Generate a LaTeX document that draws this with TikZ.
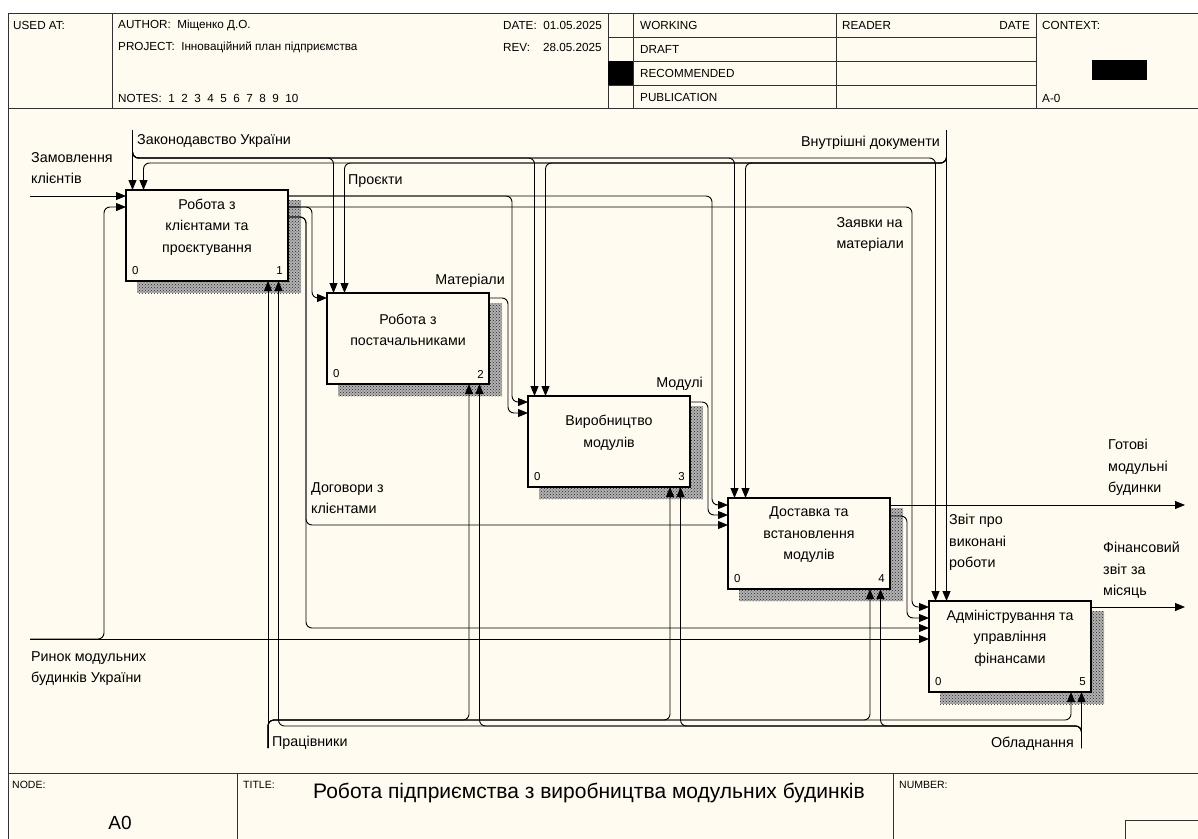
\documentclass[tikz,border=0pt]{standalone}
\usepackage{fontspec}
\setmainfont{Liberation Sans}
\usetikzlibrary{arrows.meta,calc,patterns}
\definecolor{bg}{RGB}{255,251,240}
\definecolor{frm}{RGB}{50,50,50}
\begin{document}
\begin{tikzpicture}[x=1pt,y=-1pt,
  box/.style={draw, line width=2.2pt, fill=bg, minimum width=162pt, minimum height=91pt, inner sep=0pt, outer sep=0pt, anchor=north west},
  shad/.style={fill=black!30, postaction={pattern=crosshatch dots, pattern color=black!85}},
  con/.style={line width=0.9pt, rounded corners=6pt},
  arr/.style={con, -{Triangle[length=10pt,width=8pt]}},
  lbl/.style={font=\fontsize{14.3}{21.5}\selectfont, inner sep=0pt},
  btxt/.style={font=\fontsize{14.2}{21.5}\selectfont, inner sep=0pt, align=center},
  num/.style={font=\fontsize{11.5}{12}\selectfont, inner sep=0pt},
  hdr/.style={font=\fontsize{11.7}{12}\selectfont, inner sep=0pt, anchor=west},
  ftr/.style={font=\fontsize{10.5}{11}\selectfont, inner sep=0pt, anchor=west},
  frame/.style={draw=frm, line width=0.9pt}
]
\useasboundingbox (0,0) rectangle (1198,838);
\fill[white] (0,0) rectangle (1198,838);
% frame and tables
\fill[bg] (8,13) rectangle (1210,850);
\draw[frame] (8,850) -- (8,13) -- (1210,13);
\draw[frame] (8,108) -- (1210,108);
\draw[frame] (112,13) -- (112,108);
\draw[frame] (608,13) -- (608,108);
\draw[frame] (633,13) -- (633,108);
\draw[frame] (836,13) -- (836,108);
\draw[frame] (1036,13) -- (1036,108);
\draw[frame] (608,37) -- (1036,37);
\draw[frame] (608,61) -- (1036,61);
\draw[frame] (608,85) -- (1036,85);
\fill[black] (608,61) rectangle (633,85);
\fill[black] (1092,60) rectangle (1147,80);
\draw[frame] (8,773) -- (1210,773);
\draw[frame] (237,773) -- (237,850);
\draw[frame] (893,773) -- (893,850);
\draw[frame] (1125,850) -- (1125,820) -- (1210,820);
% header texts
\node[hdr] (usedat) at (13,25) {USED AT:};
\node[hdr] (author) at (118,25) {AUTHOR:\ \ Міщенко Д.О.};
\node[hdr] (project) at (118,47) {PROJECT:\ \ Інноваційний план підприємства};
\node[hdr] (notes) at (118,98) {NOTES:\ \ 1\ \ 2\ \ 3\ \ 4\ \ 5\ \ 6\ \ 7\ \ 8\ \ 9\ \ 10};
\node[hdr] (date) at (503,25) {DATE:\ \ 01.05.2025};
\node[hdr] (rev) at (503,47) {REV:\ \ \ \ 28.05.2025};
\node[hdr] (working) at (640,25) {WORKING};
\node[hdr] (draft) at (640,49) {DRAFT};
\node[hdr] (recom) at (640,73) {RECOMMENDED};
\node[hdr] (publ) at (640,97) {PUBLICATION};
\node[hdr] (reader) at (842,25) {READER};
\node[hdr, anchor=east] (rdate) at (1030,25) {DATE};
\node[hdr] (context) at (1042,25) {CONTEXT:};
\node[hdr] (actx) at (1042,98) {A-0};
\node[ftr] (nodelbl) at (12,785) {NODE:};
\node[ftr] (titlelbl) at (243,785) {TITLE:};
\node[ftr] (numlbl) at (899,785) {NUMBER:};
\node[inner sep=0pt, font=\fontsize{19}{20}\selectfont] (nodeid) at (120,823) {A0};
\node[inner sep=0pt, anchor=west, font=\fontsize{21}{22}\selectfont] (title) at (313,793) {Робота підприємства з виробництва модульних будинків};
% shadows
\foreach \X/\Y in {126/190,327/293,528/396,728/498,929/601}{
  \path[shad] (\X+11,\Y+10) rectangle (\X+175,\Y+103);
}
% boxes
\node[box] (b1) at (126,190) {};
\node[box] (b2) at (327,293) {};
\node[box] (b3) at (528,396) {};
\node[box] (b4) at (728,498) {};
\node[box] (b5) at (929,601) {};
\node[btxt] (b1t) at ($(b1.center)+(0,-8.5)$) {Робота з\\клієнтами та\\проєктування};
\node[btxt] (b2t) at ($(b2.center)+(0,-8.5)$) {Робота з\\постачальниками};
\node[btxt] (b3t) at ($(b3.center)+(0,-8.5)$) {Виробництво\\модулів};
\node[btxt] (b4t) at ($(b4.center)+(0,-8.5)$) {Доставка та\\встановлення\\модулів};
\node[btxt] (b5t) at ($(b5.center)+(0,-8.5)$) {Адміністрування та\\управління\\фінансами};
\foreach \b/\n in {b1/1,b2/2,b3/3,b4/4,b5/5}{
  \node[num, anchor=west] (\b z) at ($(\b.south west)+(6,-10)$) {0};
  \node[num, anchor=east] (\b n) at ($(\b.south east)+(-5,-10)$) {\n};
}
% ports
\foreach \b in {b1,b2,b3,b4,b5}{
  \coordinate (\b c1) at ($(\b.north west)+(6.5,0)$);
  \coordinate (\b c2) at ($(\b.north west)+(17.5,0)$);
  \coordinate (\b m1) at ($(\b.south east)+(-20,0)$);
  \coordinate (\b m2) at ($(\b.south east)+(-9.5,0)$);
}
\coordinate (b1i1) at ($(b1.north west)+(0,6)$);
\coordinate (b1i2) at ($(b1.north west)+(0,17)$);
\coordinate (b2i1) at ($(b2.north west)+(0,5)$);
\coordinate (b3i1) at ($(b3.north west)+(0,6)$);
\coordinate (b3i2) at ($(b3.north west)+(0,17)$);
\coordinate (b4i1) at ($(b4.north west)+(0,7)$);
\coordinate (b4i2) at ($(b4.north west)+(0,17)$);
\coordinate (b4i3) at ($(b4.north west)+(0,27)$);
\coordinate (b5i1) at ($(b5.north west)+(0,6)$);
\coordinate (b5i2) at ($(b5.north west)+(0,17)$);
\coordinate (b5i3) at ($(b5.north west)+(0,27)$);
\coordinate (b5i4) at ($(b5.north west)+(0,38)$);
\coordinate (b1o1) at ($(b1.north east)+(0,6)$);
\coordinate (b1o2) at ($(b1.north east)+(0,17)$);
\coordinate (b1o3) at ($(b1.north east)+(0,27)$);
\coordinate (b2o1) at ($(b2.north east)+(0,5)$);
\coordinate (b3o1) at ($(b3.north east)+(0,6)$);
\coordinate (b4o1) at ($(b4.north east)+(0,7)$);
\coordinate (b4o2) at ($(b4.north east)+(0,18)$);
\coordinate (b5o1) at ($(b5.north east)+(0,6)$);
% free ends and bend lines
\coordinate (zamIn) at (30,196);
\coordinate (rynIn) at (30,639);
\coordinate (zakIn) at (132.5,130);
\coordinate (vnuIn) at (946.5,130);
\coordinate (pracIn) at (268,748);
\coordinate (oblIn) at (1081.5,748);
\coordinate (gotOut) at (1185,505);
\coordinate (finOut) at (1185,607);
\coordinate (yZak) at (0,158);
\coordinate (yVnu) at (0,163);
\coordinate (yPr) at (0,720);
\coordinate (yOb) at (0,726);
\coordinate (xR) at (104,0);
\coordinate (xP3) at (512,0);
\coordinate (xP4) at (712,0);
\coordinate (xZ2) at (312,0);
\coordinate (xZ5) at (912,0);
\coordinate (xD) at (306,0);
\coordinate (xM) at (508,0);
\coordinate (xMod) at (708,0);
\coordinate (xZv) at (907,0);
% connectors
\draw[arr] (zamIn) -- (b1i1);
\draw[arr] (rynIn) -- (b5i4);
\draw[arr] (rynIn) -| (xR |- b1i2) -- (b1i2);
\draw[arr] (zakIn) -- (b1c1);
\foreach \b in {b2,b3,b4,b5}{\draw[arr] (zakIn) |- (\b c1 |- yZak) -- (\b c1);}
\draw[arr] (vnuIn) -- (b5c2);
\foreach \b in {b1,b2,b3,b4}{\draw[arr] (vnuIn) |- (\b c2 |- yVnu) -- (\b c2);}
\draw[arr] (b1o1) -| (xP4 |- b4i1) -- (b4i1);
\draw[arr] (b1o1) -| (xP3 |- b3i1) -- (b3i1);
\draw[arr] (b1o2) -| (xZ5 |- b5i1) -- (b5i1);
\draw[arr] (b1o2) -| (xZ2 |- b2i1) -- (b2i1);
\draw[arr] (b1o3) -| (xD |- b4i3) -- (b4i3);
\draw[arr] (b1o3) -| (xD |- b5i3) -- (b5i3);
\draw[arr] (b2o1) -| (xM |- b3i2) -- (b3i2);
\draw[arr] (b3o1) -| (xMod |- b4i2) -- (b4i2);
\draw[arr] (b4o1) -- (gotOut);
\draw[arr] (b4o2) -| (xZv |- b5i2) -- (b5i2);
\draw[arr] (b5o1) -- (finOut);
\draw[arr] (pracIn) -- (b1m1);
\foreach \b in {b2,b3,b4,b5}{\draw[arr] (pracIn) |- (\b m1 |- yPr) -- (\b m1);}
\draw[arr] (oblIn) -- (b5m2);
\foreach \b in {b1,b2,b3,b4}{\draw[arr] (oblIn) |- (\b m2 |- yOb) -- (\b m2);}
% labels
\node[lbl, anchor=north west] (lzak) at (137,134) {Законодавство України};
\node[lbl, anchor=north west, align=left] (lzam) at (31,152) {Замовлення\\клієнтів};
\node[lbl, anchor=north east] (lvnu) at (940,136) {Внутрішні документи};
\node[lbl, anchor=north west] (lpro) at (348,174) {Проєкти};
\node[lbl, anchor=north east, align=left] (lzay) at (904,217) {Заявки на\\матеріали};
\node[lbl, anchor=north east] (lmat) at (505,274) {Матеріали};
\node[lbl, anchor=north east] (lmod) at (703,377) {Модулі};
\node[lbl, anchor=north west, align=left] (ldog) at (311,482) {Договори з\\клієнтами};
\node[lbl, anchor=north west, align=left] (lgot) at (1108,439) {Готові\\модульні\\будинки};
\node[lbl, anchor=north west, align=left] (lzvit) at (949,514) {Звіт про\\виконані\\роботи};
\node[lbl, anchor=north west, align=left] (lfin) at (1103,542) {Фінансовий\\звіт за\\місяць};
\node[lbl, anchor=north west, align=left] (lryn) at (31,651) {Ринок модульних\\будинків України};
\node[lbl, anchor=north west] (lprac) at (272,736) {Працівники};
\node[lbl, anchor=north east] (lobl) at (1074,737) {Обладнання};
\end{tikzpicture}
\end{document}
